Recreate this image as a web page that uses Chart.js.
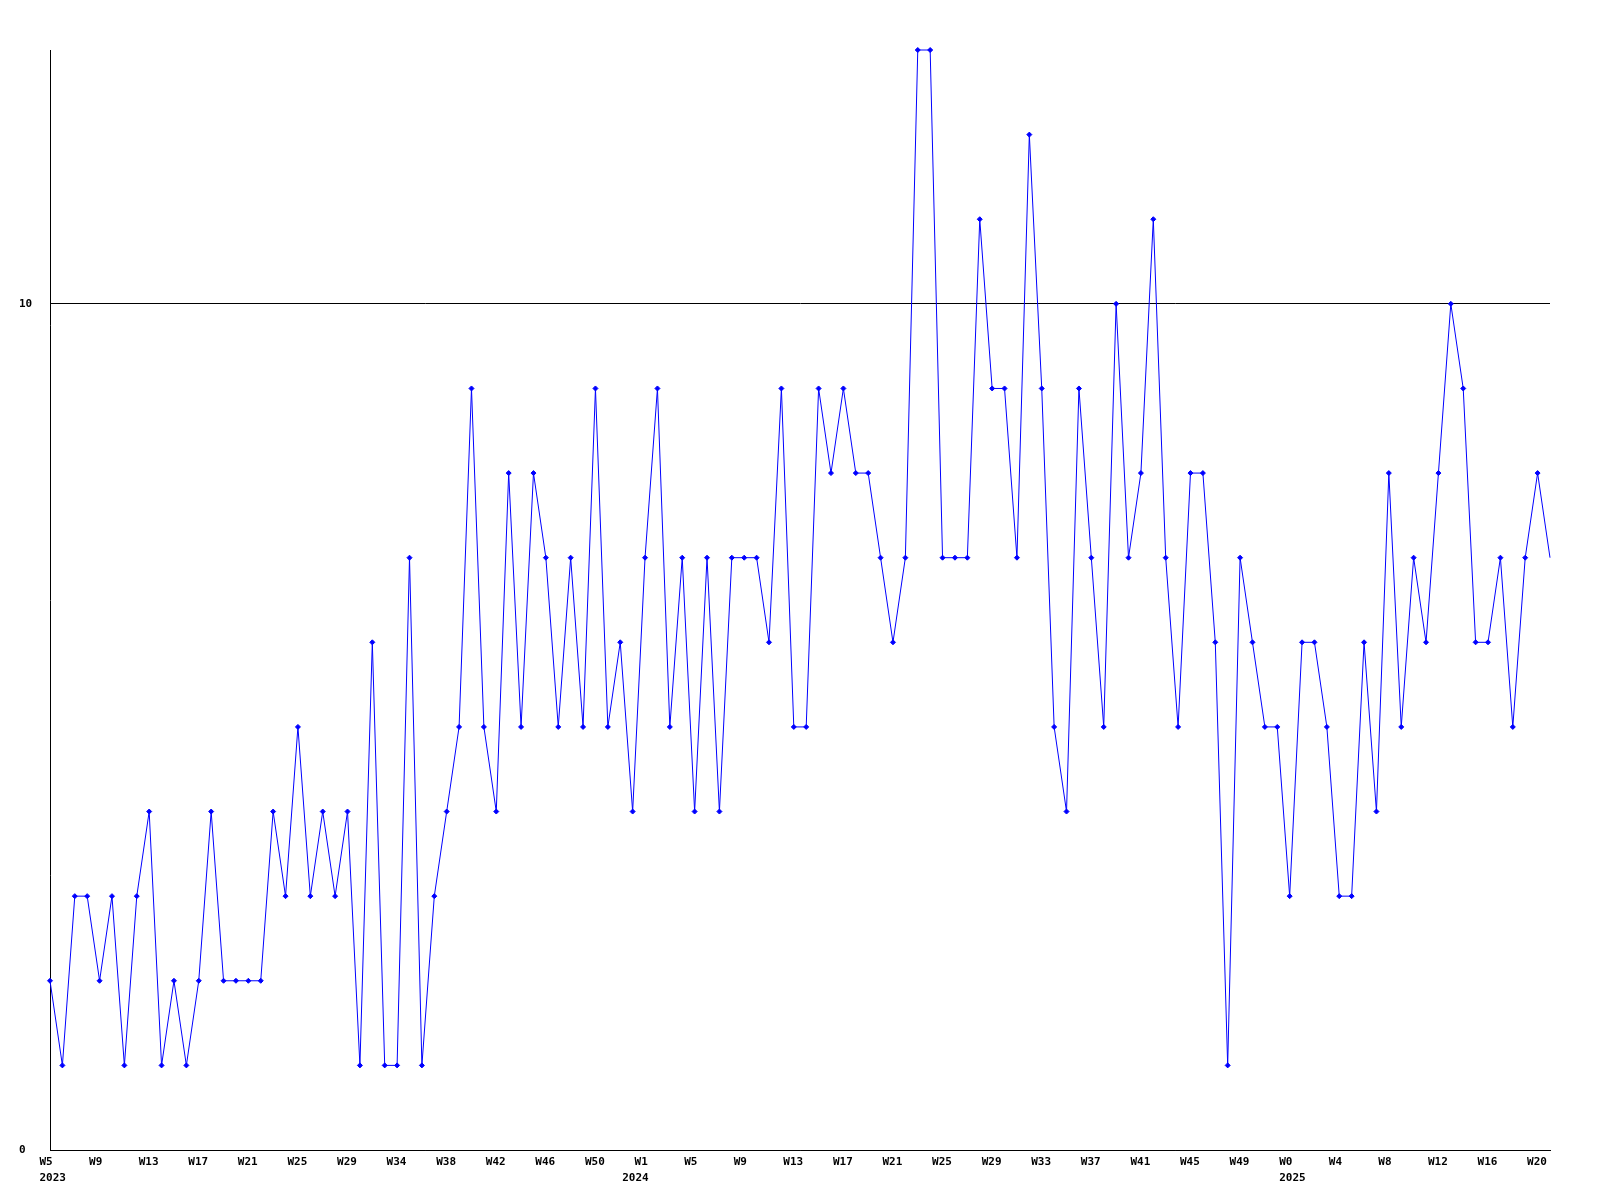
<!DOCTYPE html>
<html>
<head>
<meta charset="utf-8">
<title>Weekly count</title>
<script src="https://cdn.jsdelivr.net/npm/chart.js@4/dist/chart.umd.min.js"></script>
<style>
  body { margin: 0; background: #ffffff; }
  #chart { display: block; }
</style>
</head>
<body>
<canvas id="chart" width="1600" height="1200"></canvas>
<script>
// Week number of every point (2023 W5 ... 2025 W21)
const weekNumbers = [
  5, 6, 7, 8, 9, 10, 11, 12, 13, 14, 15, 16, 17, 18, 19, 20, 21, 22, 23, 24, 25, 26, 27, 28, 29,
  30, 31, 32, 34, 35, 36, 37, 38, 39, 40, 41, 42, 43, 44, 45, 46, 47, 48, 49, 50, 51, 52,
  0, 1, 2, 3, 4, 5, 6, 7, 8, 9, 10, 11, 12, 13, 14, 15, 16, 17, 18, 19, 20, 21, 22, 23, 24,
  25, 26, 27, 28, 29, 30, 31, 32, 33, 34, 35, 36, 37, 38, 39, 40, 41, 42, 43, 44, 45, 46,
  47, 48, 49, 50, 51, 52,
  0, 1, 2, 3, 4, 5, 6, 7, 8, 9, 10, 11, 12, 13, 14, 15, 16, 17, 18, 19, 20, 21,
];

// Year shown under the first point of each year
const years = ["2023", "2024", "2025"];
const yearFirstPoint = [0, 47, 100];

// Weekly values
const values = [
  2, 1, 3, 3, 2, 3, 1, 3, 4, 1, 2, 1, 2, 4, 2, 2, 2, 2, 4, 3, 5, 3, 4, 3, 4, 1, 6, 1, 1, 7, 1,
  3, 4, 5, 9, 5, 4, 8, 5, 8, 7, 5, 7, 5, 9, 5, 6, 4, 7, 9, 5, 7, 4, 7, 4, 7, 7, 7, 6, 9, 5, 5,
  9, 8, 9, 8, 8, 7, 6, 7, 13, 13, 7, 7, 7, 11, 9, 9, 7, 12, 9, 5, 4, 9, 7, 5, 10, 7, 8, 11, 7, 5, 8,
  8, 6, 1, 7, 6, 5, 5, 3, 6, 6, 5, 3, 3, 6, 4, 8, 5, 7, 6, 8, 10, 9, 6, 6, 7, 5, 7, 8, 7,
];

const yTicks = [0, 10];
const yMax = 13;
const labelEvery = 4;

const weekLabels = weekNumbers.map((w) => "W" + w);
const tickFont = { family: "'DejaVu Sans Mono', monospace", size: 11, weight: "bold" };

const ctx = document.getElementById("chart").getContext("2d");
new Chart(ctx, {
  type: "line",
  data: {
    labels: weekLabels,
    datasets: [
      {
        data: values,
        borderColor: "#0000ff",
        backgroundColor: "#0000ff",
        borderWidth: 1,
        pointStyle: "rectRot",
        pointRadius: (c) => (c.dataIndex === values.length - 1 ? 0 : 2.5),
        pointBorderWidth: 1,
        tension: 0,
        clip: false,
      },
    ],
  },
  options: {
    responsive: false,
    animation: false,
    layout: { padding: { left: 19, top: 50, right: 50, bottom: 11 } },
    plugins: { legend: { display: false }, tooltip: { enabled: false } },
    scales: {
      x: {
        grid: { display: false, drawTicks: false },
        border: { display: true, color: "#000000", width: 1 },
        ticks: {
          autoSkip: false,
          maxRotation: 0,
          minRotation: 0,
          align: "start",
          labelOffset: -10.5,
          padding: 6,
          color: "#000000",
          font: tickFont,
          callback: (val, i) => (i % labelEvery === 0 ? weekLabels[i] : null),
        },
        afterFit: (scale) => { scale.height = 19; },
      },
      x2: {
        type: "category",
        labels: weekLabels,
        position: "bottom",
        grid: { display: false, drawTicks: false },
        border: { display: false },
        ticks: {
          autoSkip: false,
          maxRotation: 0,
          minRotation: 0,
          align: "start",
          labelOffset: -10.5,
          padding: 3,
          color: "#000000",
          font: tickFont,
          callback: (val, i) => {
            const k = yearFirstPoint.indexOf(i);
            return k >= 0 ? years[k] : null;
          },
        },
        afterFit: (scale) => { scale.height = 20; },
      },
      y: {
        min: 0,
        max: yMax,
        afterBuildTicks: (scale) => { scale.ticks = yTicks.map((v) => ({ value: v })); },
        grid: { color: "#000000", lineWidth: 1, drawTicks: false },
        border: { display: true, color: "#000000", width: 1 },
        ticks: {
          crossAlign: "far",
          padding: 0,
          color: "#000000",
          font: tickFont,
        },
        afterFit: (scale) => { scale.width = 31; },
      },
    },
  },
});
</script>
</body>
</html>
